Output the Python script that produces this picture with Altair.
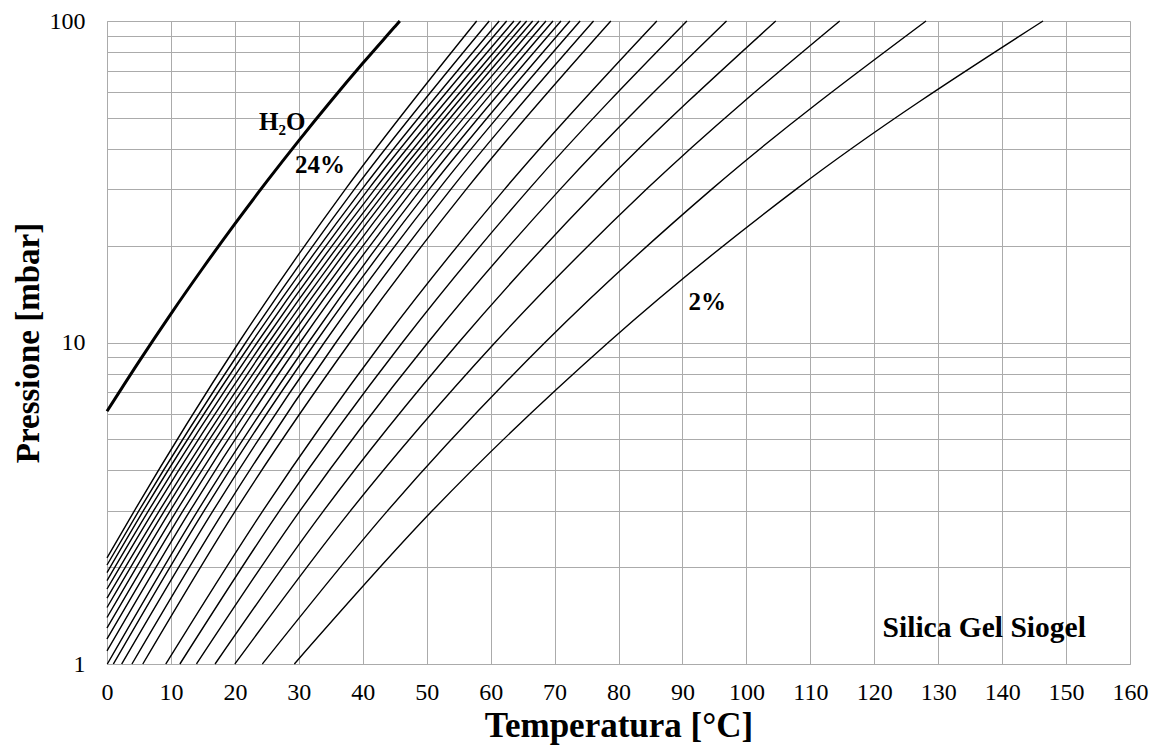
import altair as alt
import pandas as pd

# ---- Silica gel isosteres (loading in %) ----
loadings = [2, 3, 4, 5, 6, 7, 8, 9, 10, 11, 12, 13, 14, 15, 16, 17, 18, 19, 20, 21, 22, 23, 24]
# first point of each curve (T at P=1 mbar, or P at T=0 °C)
start_T = [29.3, 24.3, 20.0, 16.9, 14.0, 11.4, 9.2, 5.6, 3.9, 2.3, 1.0, 0.05,
           0, 0, 0, 0, 0, 0, 0, 0, 0, 0, 0]
start_P = [1, 1, 1, 1, 1, 1, 1, 1, 1, 1, 1, 1,
           1.098, 1.196, 1.294, 1.395, 1.499, 1.604, 1.711, 1.818, 1.925, 2.032, 2.137]
# temperature at P = 3, 10, 30, 100 mbar
T_p3 = [50.9, 43.9, 38.1, 33.9, 30.2, 27.0, 24.4, 20.1, 18.3, 16.6, 15.2, 14.2,
        13.0, 11.9, 10.9, 9.9, 9.0, 8.2, 7.3, 6.5, 5.7, 5.0, 4.3]
T_p10 = [78.4, 68.5, 60.7, 55.0, 50.2, 46.2, 43.0, 38.0, 35.8, 34.0, 32.6, 31.5,
         30.2, 29.1, 28.1, 27.1, 26.2, 25.3, 24.4, 23.5, 22.6, 21.7, 20.6]
T_p30 = [107.8, 94.6, 84.4, 76.9, 70.9, 66.0, 62.2, 56.2, 53.8, 51.9, 50.4, 49.1,
         47.9, 46.8, 45.7, 44.7, 43.8, 42.9, 41.9, 40.9, 39.9, 38.7, 37.3]
T_p100 = [146.4, 128.1, 114.6, 104.6, 96.9, 90.7, 86.0, 78.8, 76.1, 74.0, 72.4, 71.0,
          69.75, 68.66, 67.56, 66.58, 65.64, 64.70, 63.65, 62.51, 61.35, 59.79, 57.82]
P_levels = [3, 10, 30, 100]

# ---- water vapour pressure ----
water_T = [0, 5, 10, 15, 20, 25, 30, 35, 40, 45, 45.8]
water_P = [6.11, 8.72, 12.28, 17.05, 23.39, 31.69, 42.46, 56.27, 73.84, 95.9, 100]

# ---- labels ----
lab_text = ["H\u2082O", "24%", "2%"]
lab_T = [27.4, 33.3, 93.9]
lab_P = [48.5, 35.6, 13.4]
note_text = ["Silica Gel Siogel"]
note_T = [137.2]
note_P = [1.29]

rows = []
for i, w in enumerate(loadings):
    rows.append({"curve": w, "o": 0, "T": start_T[i], "P": start_P[i]})
    for j, (p, t) in enumerate(zip(P_levels, [T_p3[i], T_p10[i], T_p30[i], T_p100[i]])):
        rows.append({"curve": w, "o": j + 1, "T": t, "P": p})
gel = pd.DataFrame(rows)
water = pd.DataFrame({"T": water_T, "P": water_P, "o": list(range(len(water_T)))})
labels = pd.DataFrame({"t": lab_text, "T": lab_T, "P": lab_P})
notes = pd.DataFrame({"t": note_text, "T": note_T, "P": note_P})

FONT = "Liberation Serif"
GRID = "#ababab"

xs = alt.Scale(domain=[0, 160], nice=False, zero=False)
ys = alt.Scale(type="log", domain=[1, 100], nice=False)

x_axis = alt.Axis(values=list(range(0, 161, 10)), title="Temperatura [°C]", grid=True,
                  gridColor=GRID, gridWidth=1, tickSize=0, domainColor=GRID,
                  labelFont=FONT, labelFontSize=24, labelColor="black", labelPadding=16,
                  titleFont=FONT, titleFontSize=35, titleFontWeight="bold",
                  titleColor="black", titlePadding=4, labelFlush=False)
y_vals = [1, 2, 3, 4, 5, 6, 7, 8, 9, 10, 20, 30, 40, 50, 60, 70, 80, 90, 100]
y_axis = alt.Axis(values=y_vals, title="Pressione [mbar]", grid=True,
                  gridColor=GRID, gridWidth=1, tickSize=0, domainColor=GRID,
                  labelExpr="(datum.value == 1 || datum.value == 10 || datum.value == 100) ? datum.value : ''",
                  labelFont=FONT, labelFontSize=24, labelColor="black", labelPadding=22,
                  titleFont=FONT, titleFontSize=33, titleFontWeight="bold",
                  titleColor="black", titlePadding=4, labelFlush=False)

gel_lines = alt.Chart(gel).mark_line(color="black", strokeWidth=1.4, interpolate="monotone").encode(
    x=alt.X("T:Q", scale=xs, axis=x_axis),
    y=alt.Y("P:Q", scale=ys, axis=y_axis),
    detail="curve:N",
    order="o:Q",
)
water_line = alt.Chart(water).mark_line(color="black", strokeWidth=3, interpolate="monotone").encode(
    x=alt.X("T:Q", scale=xs), y=alt.Y("P:Q", scale=ys), order="o:Q"
)
lab = alt.Chart(labels).mark_text(font=FONT, fontSize=25, fontWeight="bold", color="black").encode(
    x=alt.X("T:Q", scale=xs), y=alt.Y("P:Q", scale=ys), text="t:N"
)
note = alt.Chart(notes).mark_text(font=FONT, fontSize=29.5, fontWeight="bold", color="black").encode(
    x=alt.X("T:Q", scale=xs), y=alt.Y("P:Q", scale=ys), text="t:N"
)

chart = (gel_lines + water_line + lab + note).properties(
    width=1023, height=643,
    autosize=alt.AutoSizeParams(type="none"),
    padding={"left": 99, "top": 13, "right": 20, "bottom": 82},
).configure_view(stroke=GRID, strokeWidth=1).configure(background="white")

chart.save("out.html", embed_options={"renderer": "svg", "actions": False})
